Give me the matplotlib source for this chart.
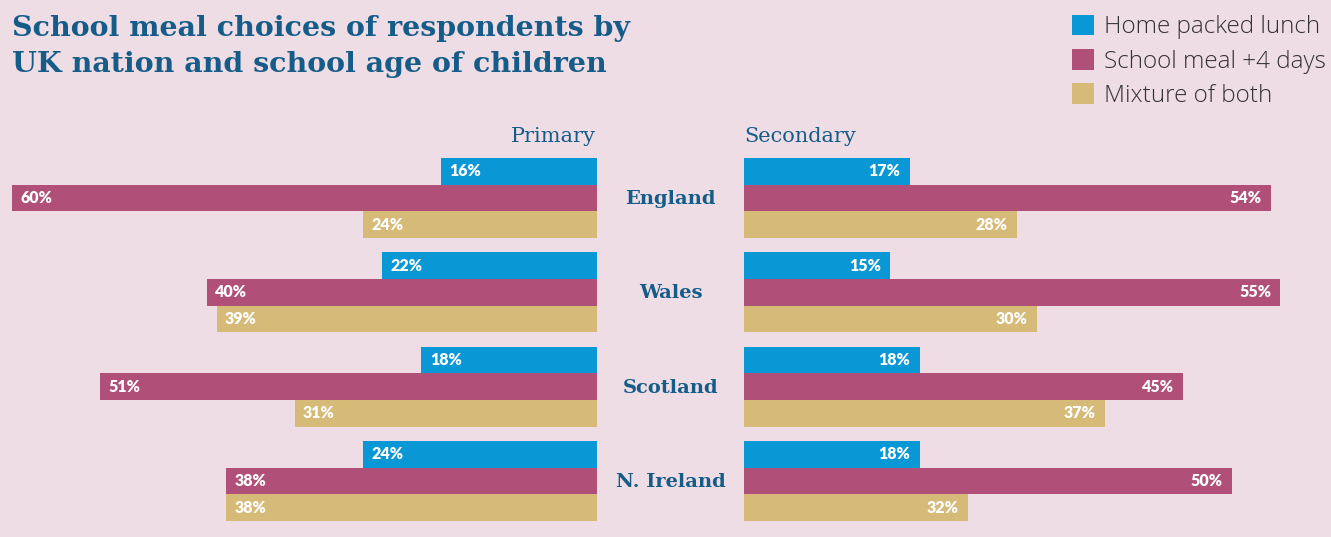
"""School meal choices by UK nation and school age - mirrored bar chart."""

import matplotlib
matplotlib.use("Agg")
import matplotlib.pyplot as plt
from matplotlib.patches import Patch
from matplotlib.transforms import blended_transform_factory
import numpy as np

nations = ["England", "Wales", "Scotland", "N. Ireland"]
series = ["Home packed lunch", "School meal +4 days", "Mixture of both"]

primary_home = [16, 22, 18, 24]
primary_meal = [60, 40, 51, 38]
primary_mix = [24, 39, 31, 38]

secondary_home = [17, 15, 18, 18]
secondary_meal = [54, 55, 45, 50]
# the source draws the N. Ireland bar at ~23 while labelling it 32%
secondary_mix = [28, 30, 37, 23]
secondary_mix_labels = ["28%", "30%", "37%", "32%"]

BG = "#EEDDE5"
DARK_BLUE = "#165C89"
COLORS = ["#0998D5", "#B05079", "#D6BA78"]

W, H = 1331, 537
PX_PER_PCT = 9.75
GROUP = 94.33          # px between nation centres
FIRST = 198            # px of England centre
BAR_H = 26.7 / GROUP

fig = plt.figure(figsize=(W / 100, H / 100), dpi=100, facecolor=BG)

ylim = ((H - FIRST) / GROUP, -FIRST / GROUP)
axL = fig.add_axes([0, 0, 597 / W, 1])
axR = fig.add_axes([744 / W, 0, (W - 744) / W, 1])
axL.set_xlim(597 / PX_PER_PCT, 0)
axR.set_xlim(0, (W - 744) / PX_PER_PCT)
for ax in (axL, axR):
    ax.set_ylim(*ylim)
    ax.set_facecolor("none")
    ax.axis("off")

y = np.arange(len(nations))
offsets = [-BAR_H, 0, BAR_H]
lab_font = dict(color="white", fontsize=11.5, fontweight="heavy", family="Lato", va="center")

left_sets = [primary_home, primary_meal, primary_mix]
right_sets = [secondary_home, secondary_meal, secondary_mix]
right_labels = [[f"{v}%" for v in secondary_home],
                [f"{v}%" for v in secondary_meal],
                secondary_mix_labels]

for vals, off, col in zip(left_sets, offsets, COLORS):
    axL.barh(y + off, vals, height=BAR_H, color=col, linewidth=0)
    for yi, v in zip(y, vals):
        axL.text(v - 0.85, yi + off, f"{v}%", ha="left", **lab_font)

for vals, labs, off, col in zip(right_sets, right_labels, offsets, COLORS):
    axR.barh(y + off, vals, height=BAR_H, color=col, linewidth=0)
    for yi, v, lab in zip(y, vals, labs):
        axR.text(v - 0.95, yi + off, lab, ha="right", **lab_font)

# nation names between the two panels
tr = blended_transform_factory(fig.transFigure, axL.transData)
for yi, name in zip(y, nations):
    fig.text(670.5 / W, yi + 0.01, name, transform=tr, ha="center", va="center",
             family="DejaVu Serif", fontweight="bold", fontsize=14, color=DARK_BLUE)

fig.text(596 / W, 1 - 136 / H, "Primary", ha="right", va="center",
         family="DejaVu Serif", fontsize=15, color=DARK_BLUE)
fig.text(744 / W, 1 - 136 / H, "Secondary", ha="left", va="center",
         family="DejaVu Serif", fontsize=15, color=DARK_BLUE)

fig.text(12 / W, 1 - 15 / H,
         "School meal choices of respondents by\nUK nation and school age of children",
         ha="left", va="top", family="DejaVu Serif", fontweight="bold",
         fontsize=20.5, color=DARK_BLUE, linespacing=1.42)

handles = [Patch(facecolor=c, edgecolor="none") for c in COLORS]
fig.legend(handles, series, loc="upper left", bbox_to_anchor=(1062 / W, 1 - 5 / H),
           frameon=False, handlelength=0.92, handleheight=0.92, handletextpad=0.4,
           labelspacing=0.4, borderaxespad=0,
           prop=dict(family="Open Sans", size=17.5, weight="light"), labelcolor="#333333")

fig.savefig("out.png", dpi=100, facecolor=BG)
